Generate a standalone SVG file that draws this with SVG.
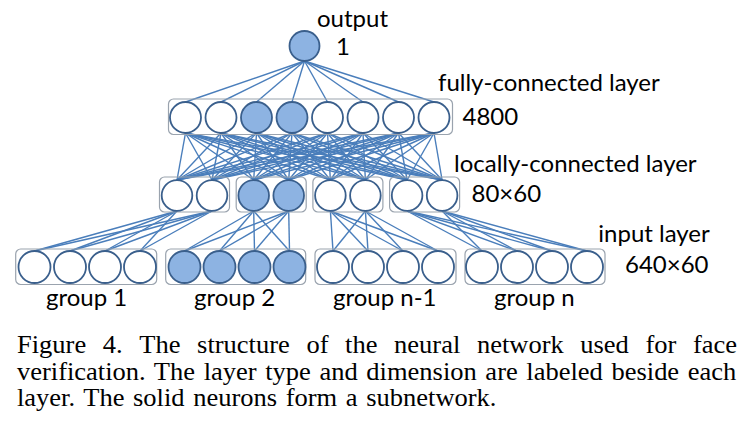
<svg xmlns="http://www.w3.org/2000/svg" width="754" height="431" viewBox="0 0 754 431">
<style>
.bg{fill:#ffffff}
.box{fill:none;stroke:#9aa3ae;stroke-width:1.2}
.n{fill:#ffffff;stroke:#3a5f8c;stroke-width:1.8}
.s{fill:#8db3e2;stroke:#3a5f8c;stroke-width:1.8}
.c line{stroke:#4a7ebb;stroke-width:1.4}
.t{font-size:24px;fill:#000}
.cap{font-size:25px;fill:#000}
</style>
<rect class="bg" x="0" y="0" width="754" height="431"/>
<g id="connectors" class="c">
<line x1="304.5" y1="61" x2="185.5" y2="102"/>
<line x1="304.5" y1="61" x2="221" y2="102"/>
<line x1="304.5" y1="61" x2="256.5" y2="102"/>
<line x1="304.5" y1="61" x2="292" y2="102"/>
<line x1="304.5" y1="61" x2="327.5" y2="102"/>
<line x1="304.5" y1="61" x2="363" y2="102"/>
<line x1="304.5" y1="61" x2="398.5" y2="102"/>
<line x1="304.5" y1="61" x2="434" y2="102"/>
<line x1="185.5" y1="133" x2="177" y2="180"/><line x1="185.5" y1="133" x2="212" y2="180"/><line x1="185.5" y1="133" x2="253.7" y2="180"/><line x1="185.5" y1="133" x2="288.7" y2="180"/><line x1="185.5" y1="133" x2="330.4" y2="180"/><line x1="185.5" y1="133" x2="365.4" y2="180"/><line x1="185.5" y1="133" x2="407.1" y2="180"/><line x1="185.5" y1="133" x2="442.1" y2="180"/>
<line x1="221" y1="133" x2="177" y2="180"/><line x1="221" y1="133" x2="212" y2="180"/><line x1="221" y1="133" x2="253.7" y2="180"/><line x1="221" y1="133" x2="288.7" y2="180"/><line x1="221" y1="133" x2="330.4" y2="180"/><line x1="221" y1="133" x2="365.4" y2="180"/><line x1="221" y1="133" x2="407.1" y2="180"/><line x1="221" y1="133" x2="442.1" y2="180"/>
<line x1="256.5" y1="133" x2="177" y2="180"/><line x1="256.5" y1="133" x2="212" y2="180"/><line x1="256.5" y1="133" x2="253.7" y2="180"/><line x1="256.5" y1="133" x2="288.7" y2="180"/><line x1="256.5" y1="133" x2="330.4" y2="180"/><line x1="256.5" y1="133" x2="365.4" y2="180"/><line x1="256.5" y1="133" x2="407.1" y2="180"/><line x1="256.5" y1="133" x2="442.1" y2="180"/>
<line x1="292" y1="133" x2="177" y2="180"/><line x1="292" y1="133" x2="212" y2="180"/><line x1="292" y1="133" x2="253.7" y2="180"/><line x1="292" y1="133" x2="288.7" y2="180"/><line x1="292" y1="133" x2="330.4" y2="180"/><line x1="292" y1="133" x2="365.4" y2="180"/><line x1="292" y1="133" x2="407.1" y2="180"/><line x1="292" y1="133" x2="442.1" y2="180"/>
<line x1="327.5" y1="133" x2="177" y2="180"/><line x1="327.5" y1="133" x2="212" y2="180"/><line x1="327.5" y1="133" x2="253.7" y2="180"/><line x1="327.5" y1="133" x2="288.7" y2="180"/><line x1="327.5" y1="133" x2="330.4" y2="180"/><line x1="327.5" y1="133" x2="365.4" y2="180"/><line x1="327.5" y1="133" x2="407.1" y2="180"/><line x1="327.5" y1="133" x2="442.1" y2="180"/>
<line x1="363" y1="133" x2="177" y2="180"/><line x1="363" y1="133" x2="212" y2="180"/><line x1="363" y1="133" x2="253.7" y2="180"/><line x1="363" y1="133" x2="288.7" y2="180"/><line x1="363" y1="133" x2="330.4" y2="180"/><line x1="363" y1="133" x2="365.4" y2="180"/><line x1="363" y1="133" x2="407.1" y2="180"/><line x1="363" y1="133" x2="442.1" y2="180"/>
<line x1="398.5" y1="133" x2="177" y2="180"/><line x1="398.5" y1="133" x2="212" y2="180"/><line x1="398.5" y1="133" x2="253.7" y2="180"/><line x1="398.5" y1="133" x2="288.7" y2="180"/><line x1="398.5" y1="133" x2="330.4" y2="180"/><line x1="398.5" y1="133" x2="365.4" y2="180"/><line x1="398.5" y1="133" x2="407.1" y2="180"/><line x1="398.5" y1="133" x2="442.1" y2="180"/>
<line x1="434" y1="133" x2="177" y2="180"/><line x1="434" y1="133" x2="212" y2="180"/><line x1="434" y1="133" x2="253.7" y2="180"/><line x1="434" y1="133" x2="288.7" y2="180"/><line x1="434" y1="133" x2="330.4" y2="180"/><line x1="434" y1="133" x2="365.4" y2="180"/><line x1="434" y1="133" x2="407.1" y2="180"/><line x1="434" y1="133" x2="442.1" y2="180"/>
<line x1="177" y1="211" x2="34.5" y2="251"/><line x1="177" y1="211" x2="70" y2="251"/><line x1="177" y1="211" x2="105" y2="251"/><line x1="177" y1="211" x2="140" y2="251"/>
<line x1="212" y1="211" x2="34.5" y2="251"/><line x1="212" y1="211" x2="70" y2="251"/><line x1="212" y1="211" x2="105" y2="251"/><line x1="212" y1="211" x2="140" y2="251"/>
<line x1="253.7" y1="211" x2="184.5" y2="251"/><line x1="253.7" y1="211" x2="219.5" y2="251"/><line x1="253.7" y1="211" x2="254.5" y2="251"/><line x1="253.7" y1="211" x2="289.5" y2="251"/>
<line x1="288.7" y1="211" x2="184.5" y2="251"/><line x1="288.7" y1="211" x2="219.5" y2="251"/><line x1="288.7" y1="211" x2="254.5" y2="251"/><line x1="288.7" y1="211" x2="289.5" y2="251"/>
<line x1="330.4" y1="211" x2="333" y2="251"/><line x1="330.4" y1="211" x2="368" y2="251"/><line x1="330.4" y1="211" x2="403" y2="251"/><line x1="330.4" y1="211" x2="438" y2="251"/>
<line x1="365.4" y1="211" x2="333" y2="251"/><line x1="365.4" y1="211" x2="368" y2="251"/><line x1="365.4" y1="211" x2="403" y2="251"/><line x1="365.4" y1="211" x2="438" y2="251"/>
<line x1="407.1" y1="211" x2="482" y2="251"/><line x1="407.1" y1="211" x2="517" y2="251"/><line x1="407.1" y1="211" x2="552" y2="251"/><line x1="407.1" y1="211" x2="587" y2="251"/>
<line x1="442.1" y1="211" x2="482" y2="251"/><line x1="442.1" y1="211" x2="517" y2="251"/><line x1="442.1" y1="211" x2="552" y2="251"/><line x1="442.1" y1="211" x2="587" y2="251"/>
</g>
<g id="output-node">
<circle class="s" cx="304.5" cy="46" r="15"/>
</g>
<g id="fc-layer">
<rect class="box" x="168.5" y="99" width="284" height="35.5" rx="5"/>
<circle class="n" cx="185.5" cy="117.5" r="15.5"/>
<circle class="n" cx="221" cy="117.5" r="15.5"/>
<circle class="s" cx="256.5" cy="117.5" r="15.5"/>
<circle class="s" cx="292" cy="117.5" r="15.5"/>
<circle class="n" cx="327.5" cy="117.5" r="15.5"/>
<circle class="n" cx="363" cy="117.5" r="15.5"/>
<circle class="n" cx="398.5" cy="117.5" r="15.5"/>
<circle class="n" cx="434" cy="117.5" r="15.5"/>
</g>
<g id="lc-group1">
<rect class="box" x="159.5" y="177" width="70" height="35" rx="5"/>
<circle class="n" cx="177" cy="195.5" r="15.3"/>
<circle class="n" cx="212" cy="195.5" r="15.3"/>
</g>
<g id="lc-group2">
<rect class="box" x="236.2" y="177" width="70" height="35" rx="5"/>
<circle class="s" cx="253.7" cy="195.5" r="15.3"/>
<circle class="s" cx="288.7" cy="195.5" r="15.3"/>
</g>
<g id="lc-group3">
<rect class="box" x="312.9" y="177" width="70" height="35" rx="5"/>
<circle class="n" cx="330.4" cy="195.5" r="15.3"/>
<circle class="n" cx="365.4" cy="195.5" r="15.3"/>
</g>
<g id="lc-group4">
<rect class="box" x="389.6" y="177" width="70" height="35" rx="5"/>
<circle class="n" cx="407.1" cy="195.5" r="15.3"/>
<circle class="n" cx="442.1" cy="195.5" r="15.3"/>
</g>
<g id="input-group1">
<rect class="box" x="15.7" y="249" width="141" height="35.5" rx="5"/>
<circle class="n" cx="34.5" cy="267" r="16"/>
<circle class="n" cx="70" cy="267" r="16"/>
<circle class="n" cx="105" cy="267" r="16"/>
<circle class="n" cx="140" cy="267" r="16"/>
</g>
<g id="input-group2">
<rect class="box" x="165.7" y="249" width="140" height="35.5" rx="5"/>
<circle class="s" cx="184.5" cy="267" r="16"/>
<circle class="s" cx="219.5" cy="267" r="16"/>
<circle class="s" cx="254.5" cy="267" r="16"/>
<circle class="s" cx="289.5" cy="267" r="16"/>
</g>
<g id="input-group3">
<rect class="box" x="315" y="249" width="141" height="35.5" rx="5"/>
<circle class="n" cx="333" cy="267" r="16"/>
<circle class="n" cx="368" cy="267" r="16"/>
<circle class="n" cx="403" cy="267" r="16"/>
<circle class="n" cx="438" cy="267" r="16"/>
</g>
<g id="input-group4">
<rect class="box" x="465" y="249" width="140" height="35.5" rx="5"/>
<circle class="n" cx="482" cy="267" r="16"/>
<circle class="n" cx="517" cy="267" r="16"/>
<circle class="n" cx="552" cy="267" r="16"/>
<circle class="n" cx="587" cy="267" r="16"/>
</g>
<g id="labels" font-family="Lato, 'Liberation Sans', sans-serif">
<text class="t" x="317" y="27">output</text>
<text class="t" x="336" y="54.5">1</text>
<text class="t" x="438" y="90.5">fully-connected layer</text>
<text class="t" x="462.5" y="125">4800</text>
<text class="t" x="454" y="171.5">locally-connected layer</text>
<text class="t" x="471.5" y="201.5">80×60</text>
<text class="t" x="598.3" y="241.7">input layer</text>
<text class="t" x="625" y="273.3">640×60</text>
<text class="t" x="46" y="306">group 1</text>
<text class="t" x="194" y="306">group 2</text>
<text class="t" x="333" y="306">group n-1</text>
<text class="t" x="494" y="306">group n</text>
</g>
<g id="caption" font-family="'Liberation Serif', 'DejaVu Serif', serif" transform="scale(1.06 1)">
<text class="cap" y="353"><tspan x="16.04">Figure</tspan><tspan x="96.98">4.</tspan><tspan x="131.42">The</tspan><tspan x="185.94">structure</tspan><tspan x="289.06">of</tspan><tspan x="325.57">the</tspan><tspan x="371.79">neural</tspan><tspan x="449.91">network</tspan><tspan x="547.45">used</tspan><tspan x="608.96">for</tspan><tspan x="653.77">face</tspan></text>
<text class="cap" x="16.04" y="380" word-spacing="1.9">verification. The layer type and dimension are labeled beside each</text>
<text class="cap" x="16.04" y="406" word-spacing="1.9">layer. The solid neurons form a subnetwork.</text>
</g>
</svg>
